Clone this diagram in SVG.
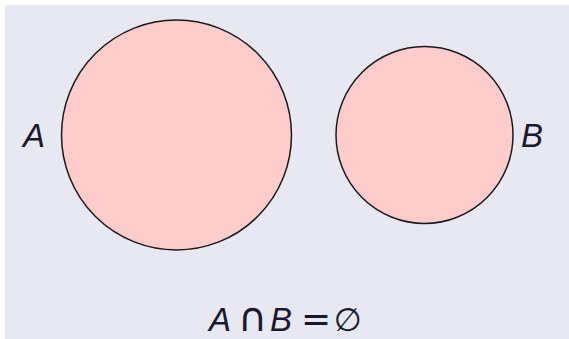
<svg xmlns="http://www.w3.org/2000/svg" width="569" height="339" viewBox="0 0 569 339">
<style>
.set{fill:#ffcccc;stroke:#1a1a1a;stroke-width:1.5}
.lbl{font-family:"Liberation Sans","DejaVu Sans",sans-serif;font-style:italic;font-size:33px;fill:#1a1a2e}
.op{font-family:"DejaVu Sans","Liberation Sans",sans-serif;fill:#1a1a2e}
</style>
<rect x="0" y="0" width="569" height="339" fill="#ffffff"/>
<rect x="5" y="5" width="564" height="334" fill="#e8e8f2"/>
<g id="setA">
<circle class="set" cx="176.5" cy="135" r="115"/>
<text class="lbl" x="23" y="147">A</text>
</g>
<g id="setB">
<circle class="set" cx="424.5" cy="135" r="88.5"/>
<text class="lbl" x="521" y="147">B</text>
</g>
<g id="formula">
<text class="lbl" x="209" y="331">A</text>
<text class="op" x="238" y="331" font-size="40">∩</text>
<text class="lbl" x="270" y="331">B</text>
<text class="op" x="301" y="331" font-size="36">=</text>
<text class="op" x="334" y="331" font-size="32">∅</text>
</g>
</svg>
